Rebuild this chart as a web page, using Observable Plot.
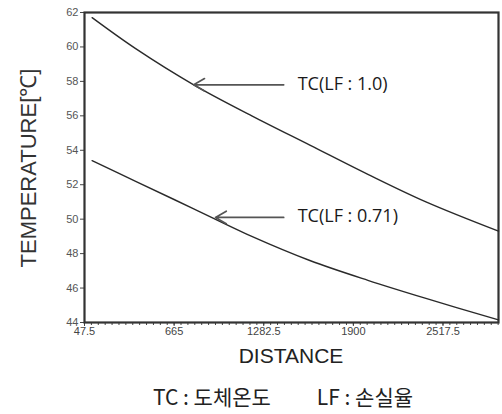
<!DOCTYPE html>
<html>
<head>
<meta charset="utf-8">
<script src="https://cdn.jsdelivr.net/npm/d3@7"></script>
<script src="https://cdn.jsdelivr.net/npm/@observablehq/plot@0.6"></script>
<style>
  html, body { margin: 0; padding: 0; background: #fff; }
  #wrap { position: relative; width: 502px; height: 414px; overflow: hidden; background: #fff; }
  #chart { position: absolute; left: 0; top: 0; }
  .ylabel { position: absolute; left: -130px; top: 155px; width: 310px; height: 26px; line-height: 26px;
            text-align: center; transform: rotate(-90deg); font: 22px "Liberation Sans", Arial, sans-serif; color: #333; }
  .xlabel { position: absolute; left: 84px; top: 344px; width: 414px; text-align: center;
            font: 21px "Liberation Sans", Arial, sans-serif; color: #222; }
  .caption { position: absolute; left: 84px; top: 381px; width: 398px; text-align: center;
             font: 21px "Noto Sans CJK KR", "Liberation Sans", sans-serif; color: #222; }
  .caption span.gap { display: inline-block; width: 46px; }
</style>
</head>
<body>
<div id="wrap">
  <div id="chart"></div>
  <div class="ylabel">TEMPERATURE[℃]</div>
  <div class="xlabel">DISTANCE</div>
  <div class="caption">TC : 도체온도<span class="gap"></span>LF : 손실율</div>
</div>
<script>
// Data
const distance = [100, 400, 800, 1200, 1600, 2000, 2400, 2900];
const tcLF100 = [61.7, 59.9, 57.8, 56.0, 54.3, 52.6, 51.0, 49.3];
const tcLF071 = [53.4, 52.2, 50.6, 49.0, 47.6, 46.45, 45.4, 44.15];

const xTickValues = [47.5, 665, 1282.5, 1900, 2517.5];
const yTickValues = [44, 46, 48, 50, 52, 54, 56, 58, 60, 62];

// Annotations
const annoLabels = ["TC(LF : 1.0)", "TC(LF : 0.71)"];
const annoTipX = [800, 950];
const annoTipY = [57.8, 50.1];
const annoTailX = [1420, 1420];

const minorTicks = d3.range(47.5, 2900, 47.5);

const rows = [];
distance.forEach((d, i) => rows.push({series: "LF 1.0", d, t: tcLF100[i]}));
distance.forEach((d, i) => rows.push({series: "LF 0.71", d, t: tcLF071[i]}));
const annos = annoLabels.map((label, i) => ({label, x1: annoTailX[i], x2: annoTipX[i], y: annoTipY[i]}));

const chart = Plot.plot({
  width: 502,
  height: 340,
  marginLeft: 84,
  marginRight: 4,
  marginTop: 12,
  marginBottom: 18,
  style: {fontFamily: "'Liberation Sans', Arial, sans-serif", background: "white", color: "#444"},
  x: {domain: [47.5, 2900]},
  y: {domain: [44, 62]},
  marks: [
    Plot.axisX({ticks: minorTicks, tickSize: 3, tickFormat: () => "", label: null, stroke: "#444"}),
    Plot.axisX({ticks: xTickValues, tickSize: 4, tickPadding: 1, tickFormat: d => String(d), label: null, fontSize: 11, fill: "#444", stroke: "#444"}),
    Plot.axisY({ticks: yTickValues, tickSize: 4, tickPadding: 2, label: null, fontSize: 11, fill: "#555", stroke: "#444"}),
    Plot.frame({stroke: "#333", strokeWidth: 2.2}),
    Plot.line(rows, {x: "d", y: "t", z: "series", stroke: "#2a2a2a", strokeWidth: 1.4, curve: "catmull-rom"}),
    Plot.arrow(annos, {x1: "x1", y1: "y", x2: "x2", y2: "y", stroke: "#555", strokeWidth: 1.7, headLength: 11}),
    Plot.text(annos, {x: "x1", y: "y", text: "label", textAnchor: "start", dx: 14, dy: -1, fontSize: 18,
      fontFamily: "'Open Sans', 'Noto Sans', sans-serif", fill: "#1a1a1a"})
  ]
});
document.getElementById("chart").appendChild(chart);
</script>
</body>
</html>
